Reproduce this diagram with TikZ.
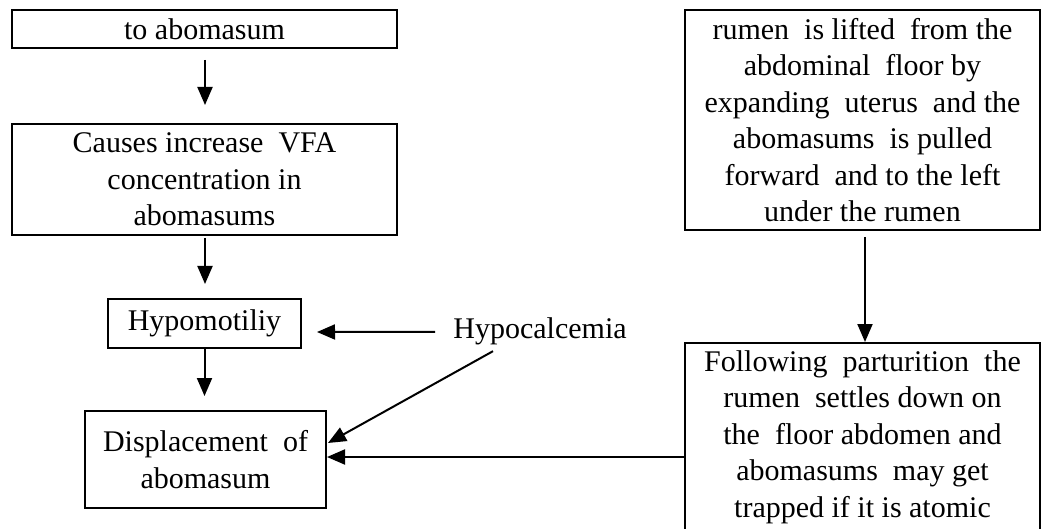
\documentclass[tikz,border=0pt]{standalone}
\usepackage{fontspec}
\setmainfont{Liberation Serif}
\usetikzlibrary{calc,arrows.meta}
\begin{document}
\begin{tikzpicture}[x=1pt,y=-1pt,
  txt/.style={font=\fontsize{30}{36.5}\selectfont, align=center, inner sep=0pt},
  box/.style={txt, draw, line width=2pt},
  arr/.style={line width=2pt, -{Triangle[length=18pt,width=15pt]}}]
\useasboundingbox (0,0) rectangle (1041,529);
% left column
\node[box, minimum width=385pt, minimum height=38pt] (b1) at (204.5,29) {to abomasum};
\node[box, minimum width=385pt, minimum height=111pt] (b2) at (204.5,179.5)
  {Causes increase\ \ VFA\\concentration\ in\\abomasums};
\node[box, minimum width=193pt, minimum height=49pt] (hypo) at (204.5,323.5) {Hypomotiliy};
\node[box, minimum width=241pt, minimum height=97pt] (disp) at (205.5,459.5)
  {Displacement\ \ of\\abomasum};
\node[txt, anchor=base] (calc) at (540,338) {Hypocalcemia};
% right column
\node[box, minimum width=355pt, minimum height=220pt] (r1) at (862.5,120)
  {rumen\ \ is lifted\ \ from the\\abdominal\ \ floor by\\expanding\ \ uterus\ \ and the\\abomasums\ \ is pulled\\forward\ \ and to the left\\under the rumen};
\node[box, minimum width=355pt, minimum height=188pt] (r2) at (862.5,437)
  {Following\ \ parturition\ \ the\\rumen\ \ settles down on\\the\ \ floor abdomen and\\abomasums\ \ may get\\trapped if it is atomic};
% connectors
\draw[arr] ($(b1.south)+(0.5,11)$) -- ($(b2.north)+(0.5,-18)$);
\draw[arr] ($(b2.south)+(0.5,2)$) -- ($(hypo.north)+(0.5,-14)$);
\draw[arr] ($(hypo.south)+(0,0)$) -- ($(disp.north)+(-1,-14)$);
\draw[arr] ($(calc.west)+(-18,1)$) -- ($(hypo.east)+(15,8.5)$);
\draw[arr] ($(calc.south)+(-47,6.5)$) -- ($(disp.east)+(1,-16.5)$);
\draw[arr] ($(r1.south)+(2.5,6)$) -- ($(r2.north)+(2.5,0)$);
\draw[arr] ($(r2.west)+(0,20)$) -- ($(disp.east)+(0,-2.5)$);
\end{tikzpicture}
\end{document}
